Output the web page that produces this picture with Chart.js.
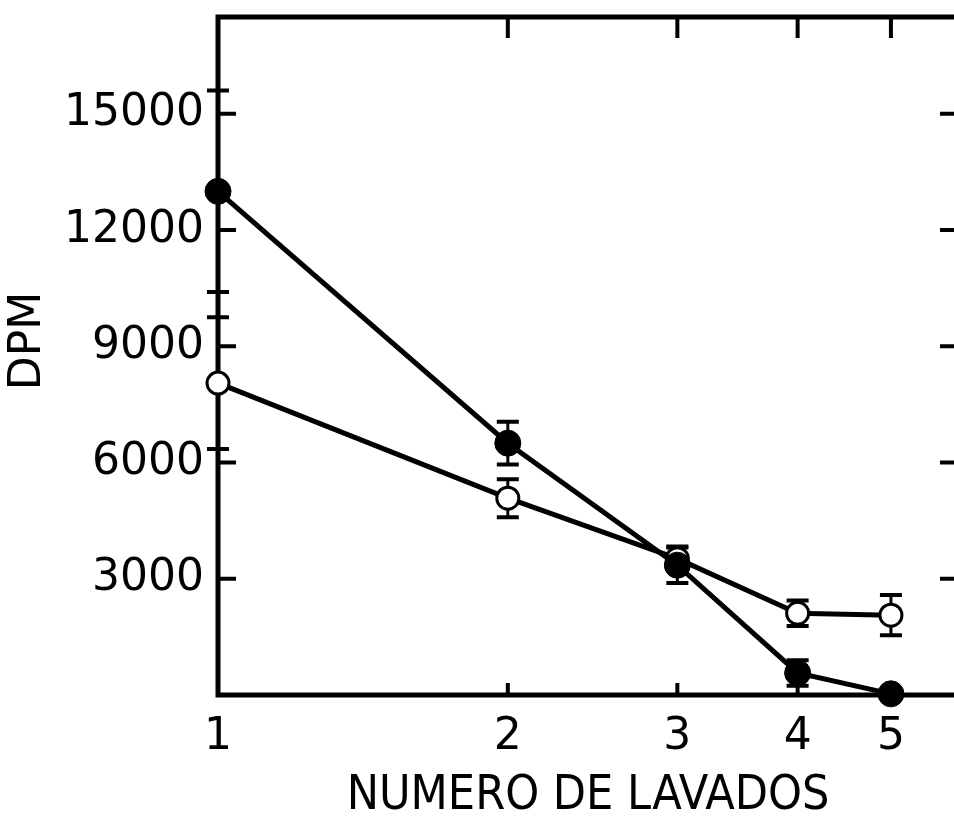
<!DOCTYPE html>
<html>
<head>
<meta charset="utf-8">
<script src="https://cdn.jsdelivr.net/npm/chart.js@4/dist/chart.umd.min.js"></script>
<style>
  body { margin: 0; background: #fff; overflow: hidden; }
  #wrap { width: 975px; height: 817px; }
</style>
</head>
<body>
<div id="wrap"><canvas id="dpmChart"></canvas></div>
<script>
// values (DPM after each wash)
var washes = [1, 2, 3, 4, 5];
var filledDpm = [13000, 6500, 3350, 570, 30];
var filledErr = [2600, 550, 460, 330, 0];
var openDpm = [8050, 5080, 3520, 2110, 2060];
var openErr = [1700, 490, 310, 330, 520];
var yTicks = [3000, 6000, 9000, 12000, 15000];

var font = "'DejaVu Sans', 'Liberation Sans', sans-serif";

function toPoints(vals) {
  return washes.map(function(w, i){ return {x: w, y: vals[i]}; });
}

// frame round the plot with the ticks pointing inwards
var frame = {
  id: 'frame',
  beforeDatasetsDraw: function(chart) {
    var ctx = chart.ctx, a = chart.chartArea;
    var xs = chart.scales.x, ys = chart.scales.y;
    ctx.save();
    ctx.strokeStyle = '#000';
    ctx.lineWidth = 5;
    ctx.strokeRect(a.left, a.top, a.right - a.left, a.bottom - a.top);
    ctx.lineWidth = 4;
    ctx.beginPath();
    yTicks.forEach(function(t){
      var py = ys.getPixelForValue(t);
      ctx.moveTo(a.left, py); ctx.lineTo(a.left + 18, py);
      ctx.moveTo(a.right, py); ctx.lineTo(a.right - 18, py);
    });
    washes.slice(1).forEach(function(w){
      var px = xs.getPixelForValue(w);
      ctx.moveTo(px, a.top); ctx.lineTo(px, a.top + 21);
      ctx.moveTo(px, a.bottom); ctx.lineTo(px, a.bottom - 12);
    });
    ctx.stroke();
    ctx.restore();
  }
};

// vertical error bars, drawn under the markers
var errorBars = {
  id: 'errorBars',
  beforeDatasetsDraw: function(chart) {
    var ctx = chart.ctx, xs = chart.scales.x, ys = chart.scales.y;
    var sets = [[filledDpm, filledErr], [openDpm, openErr]];
    ctx.save();
    ctx.strokeStyle = '#000';
    sets.forEach(function(s){
      washes.forEach(function(w, i){
        if (!s[1][i]) return;
        var px = xs.getPixelForValue(w);
        var top = ys.getPixelForValue(s[0][i] + s[1][i]);
        var bot = ys.getPixelForValue(Math.max(0, s[0][i] - s[1][i]));
        ctx.lineWidth = 3;
        ctx.beginPath();
        ctx.moveTo(px, top); ctx.lineTo(px, bot);
        ctx.stroke();
        ctx.lineWidth = 4;
        ctx.beginPath();
        ctx.moveTo(px - 11, top); ctx.lineTo(px + 11, top);
        ctx.moveTo(px - 11, bot); ctx.lineTo(px + 11, bot);
        ctx.stroke();
      });
    });
    ctx.restore();
  }
};

// rotated y axis label
var yLabel = {
  id: 'yLabel',
  afterDraw: function(chart) {
    var ctx = chart.ctx;
    ctx.save();
    ctx.translate(29, 341);
    ctx.rotate(-Math.PI / 2);
    ctx.fillStyle = '#000';
    ctx.font = "44px " + font;
    ctx.textAlign = 'center';
    ctx.textBaseline = 'middle';
    ctx.fillText('DPM', 0, 0);
    ctx.restore();
  }
};

var chart = new Chart(document.getElementById('dpmChart'), {
  type: 'line',
  data: {
    datasets: [
      {
        label: 'cerrado',
        data: toPoints(filledDpm),
        borderColor: '#000',
        borderWidth: 5,
        pointRadius: 13,
        pointBackgroundColor: '#000',
        pointBorderColor: '#000',
        pointBorderWidth: 1,
        clip: false,
        tension: 0
      },
      {
        label: 'abierto',
        data: toPoints(openDpm),
        borderColor: '#000',
        borderWidth: 5,
        pointRadius: 11,
        pointBackgroundColor: '#fff',
        pointBorderColor: '#000',
        pointBorderWidth: 3,
        clip: false,
        tension: 0
      }
    ]
  },
  options: {
    responsive: true,
    maintainAspectRatio: false,
    animation: false,
    layout: { padding: { top: 17, right: 17, left: 0, bottom: 0 } },
    plugins: { legend: { display: false }, tooltip: { enabled: false } },
    scales: {
      x: {
        type: 'logarithmic',
        min: 1,
        max: 5.87,
        grid: { display: false, drawTicks: false },
        border: { display: false },
        afterBuildTicks: function(scale){
          scale.ticks = washes.map(function(w){ return {value: w}; });
        },
        afterFit: function(scale){
          scale.height = 122;
          scale.paddingLeft = 0; scale.paddingRight = 0;
        },
        ticks: {
          color: '#000',
          font: { family: font, size: 44 },
          padding: 16,
          maxRotation: 0,
          autoSkip: false,
          callback: function(v){ return String(v); }
        },
        title: {
          display: true,
          text: 'NUMERO DE LAVADOS',
          color: '#000',
          font: { family: "'Liberation Sans Narrow', 'DejaVu Sans Condensed', sans-serif", size: 48, lineHeight: 0.6 },
          padding: { top: 0, bottom: 6 }
        }
      },
      y: {
        min: 0,
        max: 17500,
        grid: { display: false, drawTicks: false },
        border: { display: false },
        afterBuildTicks: function(scale){
          scale.ticks = yTicks.map(function(t){ return {value: t}; });
        },
        afterFit: function(scale){
          scale.width = 218;
          scale.paddingTop = 0; scale.paddingBottom = 0;
        },
        ticks: {
          color: '#000',
          font: { family: font, size: 44 },
          padding: 14,
          callback: function(v){ return String(v); }
        }
      }
    }
  },
  plugins: [frame, errorBars, yLabel]
});
</script>
</body>
</html>
